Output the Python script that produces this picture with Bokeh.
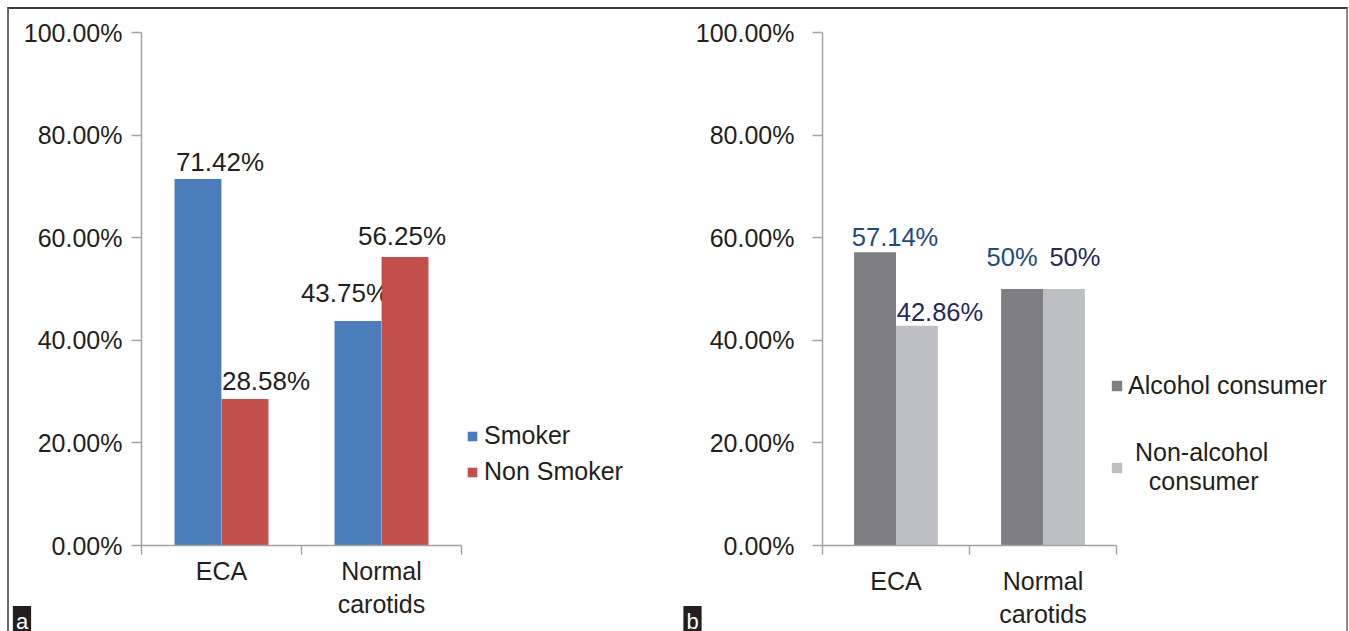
from bokeh.plotting import figure
from bokeh.models import (Range1d, FixedTicker, PrintfTickFormatter, ColumnDataSource,
                          Legend, LegendItem, Label)
from bokeh.transform import dodge
from bokeh.layouts import row
from bokeh.core.properties import value
from bokeh.embed import file_html
from bokeh.resources import INLINE

# ---------------- data ----------------
categories = ["ECA", "Normal\ncarotids"]
smoker = [71.42, 43.75]
non_smoker = [28.58, 56.25]
alcohol = [57.14, 50.0]
non_alcohol = [42.86, 50.0]
y_ticks = [0, 20, 40, 60, 80, 100]
series_a = ["Smoker", "Non Smoker"]
series_b = ["Alcohol consumer", "\u00a0Non-alcohol\n\u00a0\u00a0\u00a0consumer"]

FONT = "Liberation Sans"
TXT = "#231f20"
AXIS = "#a3a3a3"

xs = [i + 0.5 for i in range(len(categories))]


def make_panel(width, height, left, top, bottom, right, px_per_cat, ylab_standoff, xlab_standoff):
    frame_w = width - left - right
    p = figure(width=width, height=height,
               x_range=Range1d(0, frame_w / px_per_cat), y_range=Range1d(0, 100),
               output_backend="svg", toolbar_location=None,
               min_border_left=left, min_border_top=top,
               min_border_bottom=bottom, min_border_right=right)
    p.outline_line_color = None
    p.grid.visible = False
    p.background_fill_color = "white"
    p.border_fill_color = "white"

    xa = p.xaxis[0]
    xa.ticker = FixedTicker(ticks=xs, minor_ticks=list(range(len(categories) + 1)))
    xa.major_label_overrides = {x: c for x, c in zip(xs, categories)}
    xa.bounds = (0, len(categories))
    xa.axis_line_color = AXIS
    xa.axis_line_width = 1.5
    xa.major_tick_out = 0
    xa.major_tick_in = 0
    xa.minor_tick_out = 9
    xa.minor_tick_in = 0
    xa.minor_tick_line_color = AXIS
    xa.minor_tick_line_width = 1.5
    xa.major_label_standoff = xlab_standoff
    xa.major_label_text_font = FONT
    xa.major_label_text_font_size = "25px"
    xa.major_label_text_color = TXT
    xa.major_label_text_line_height = 1.2

    ya = p.yaxis[0]
    ya.ticker = FixedTicker(ticks=y_ticks, minor_ticks=[])
    ya.formatter = PrintfTickFormatter(format="%.2f%%")
    ya.axis_line_color = AXIS
    ya.axis_line_width = 1.5
    ya.major_tick_line_color = AXIS
    ya.major_tick_line_width = 1.5
    ya.major_tick_out = 10
    ya.major_tick_in = 0
    ya.minor_tick_line_color = None
    ya.major_label_standoff = ylab_standoff
    ya.major_label_text_font = FONT
    ya.major_label_text_font_size = "25px"
    ya.major_label_text_color = TXT
    return p


def add_series(p, vals, off, bw, color, lab_color, dx, dy, fsize):
    src = ColumnDataSource(dict(x=xs, y=vals, label=[f"{v:g}%" for v in vals], dx=dx, dy=dy))
    r = p.vbar(x=dodge("x", off, range=p.x_range), top="y", width=bw, bottom=0,
               source=src, fill_color=color, line_color=None)
    p.text(x=dodge("x", off, range=p.x_range), y="y", text="label", source=src,
           x_offset="dx", y_offset="dy", text_align="center", text_baseline="middle",
           text_font=value(FONT), text_font_size=fsize, text_color=lab_color)
    return r


def style_legend(lg, spacing, gsize, standoff):
    lg.label_text_font = FONT
    lg.label_text_font_size = "25px"
    lg.label_text_color = TXT
    lg.glyph_width = gsize
    lg.glyph_height = gsize
    lg.label_standoff = standoff
    lg.spacing = spacing
    lg.padding = 0
    lg.margin = 0
    lg.border_line_color = None
    lg.background_fill_alpha = 0


def tag(text, cx, baseline):
    return Label(x=cx, y=baseline, x_units="canvas", y_units="canvas", text=text,
                 text_align="center", text_baseline="alphabetic",
                 text_font=FONT, text_font_size="22px", text_color="white",
                 background_fill_color="#231f20", padding=3)


# ---------------- panel a ----------------
p1 = make_panel(665, 622, 132, 23, 86, 34, 160, 9, 2)
ra1 = add_series(p1, smoker, -0.147, 0.293, "#4a7ebb", TXT, [22, -13], [-17, -28], "26px")
ra2 = add_series(p1, non_smoker, 0.147, 0.293, "#c24f4c", TXT, [21, -3], [-18, -21], "26px")
lg1 = Legend(items=[LegendItem(label=series_a[0], renderers=[ra1]),
                    LegendItem(label=series_a[1], renderers=[ra2])],
             location=(325, 59))
style_legend(lg1, 7, 12, 6)
p1.add_layout(lg1)
p1.add_layout(tag("a", 12.5, 612), "right")

# ---------------- panel b ----------------
p2 = make_panel(672, 622, 148, 23, 78, 6, 147, 18, 12)
rb1 = add_series(p2, alcohol, -0.1425, 0.285, "#7e7e82", "#1f4a7f", [20, -10], [-15, -32], "25.5px")
rb2 = add_series(p2, non_alcohol, 0.1425, 0.285, "#bebfc3", "#25295c", [23, 11], [-14, -32], "25.5px")
lg2 = Legend(items=[LegendItem(label=series_b[0], renderers=[rb1]),
                    LegendItem(label=series_b[1], renderers=[rb2])],
             location=(288, 49))
style_legend(lg2, 38, 13, 5)
p2.add_layout(lg2)
p2.add_layout(tag("b", 18, 612), "left")

layout = row(p1, p2)
layout.margin = (7, 0, 0, 7)
layout.styles = {"border-top": "2px solid #3c3c3c", "border-left": "2px solid #6a6a6a",
                 "border-right": "2px solid #8c8c8c"}

open("out.html", "w").write(file_html(layout, INLINE))
